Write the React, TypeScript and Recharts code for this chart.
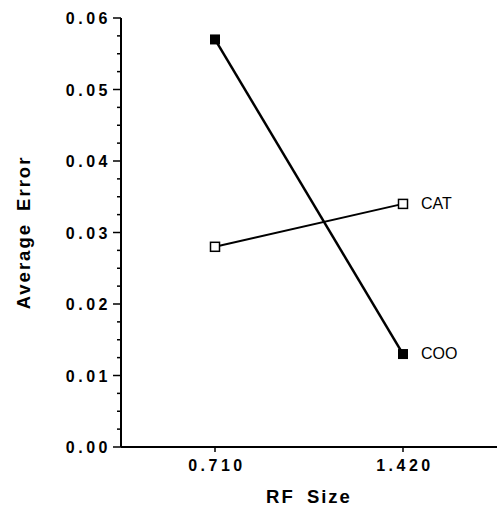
import { LineChart, Line, XAxis, YAxis, Label } from "recharts";

const rfSizes = [0.71, 1.42];
const cooErrors = [0.057, 0.013];
const catErrors = [0.028, 0.034];
const xTicks = [0.71, 1.42];
// major ticks every 0.01, minor every 0.0025
const yTicks = Array.from({ length: 25 }, (_, i) => i * 0.0025);

const data = rfSizes.map((rf, i) => ({ rf, COO: cooErrors[i], CAT: catErrors[i] }));

const tickFont = {
  fontFamily: "Liberation Sans, Arial, sans-serif",
  fontWeight: 700,
  fontSize: 16,
  letterSpacing: 3.5,
  fill: "#000",
};

const titleFont = {
  fontFamily: "Liberation Sans, Arial, sans-serif",
  fontWeight: 700,
  fontSize: 18.5,
  letterSpacing: 2,
  wordSpacing: 5,
  fill: "#000",
};

function YTick(props: any) {
  const { x, y, payload } = props;
  const v = payload.value;
  const major = Math.abs(v * 100 - Math.round(v * 100)) < 1e-6;
  return (
    <g>
      <line x1={x - (major ? 8 : 4)} x2={x} y1={y} y2={y} stroke="#000" strokeWidth={1.5} />
      {major && (
        <text x={x - 10} y={y} dy={6} textAnchor="end" style={tickFont}>
          {v.toFixed(2)}
        </text>
      )}
    </g>
  );
}

function XTick(props: any) {
  const { x, y, payload } = props;
  return (
    <g>
      <line x1={x} x2={x} y1={y} y2={y + 5} stroke="#000" strokeWidth={1.5} />
      <text x={x + 2} y={y + 24} textAnchor="middle" style={tickFont}>
        {payload.value.toFixed(3)}
      </text>
    </g>
  );
}

function Square(props: any) {
  const { cx, cy, filled } = props;
  if (cx == null || cy == null) return null;
  return filled ? (
    <rect x={cx - 5} y={cy - 5} width={10} height={10} fill="#000" />
  ) : (
    <rect x={cx - 4.5} y={cy - 4.5} width={9} height={9} fill="#fff" stroke="#000" strokeWidth={1.5} />
  );
}

function endLabel(name: string) {
  return (props: any) => {
    const { x, y, index } = props;
    if (index !== rfSizes.length - 1) return null;
    return (
      <text
        x={x + 18}
        y={y + 5}
        style={{ fontFamily: "Liberation Sans, Arial, sans-serif", fontSize: 16, fill: "#000" }}
      >
        {name}
      </text>
    );
  };
}

export default function App() {
  return (
    <div style={{ position: "absolute", left: 0, top: 0, background: "#fff" }}>
      <LineChart width={501} height={507} data={data} margin={{ top: 18, right: 4, left: 0, bottom: 0 }}>
        <XAxis
          dataKey="rf"
          type="number"
          domain={[0.355, 1.775]}
          ticks={xTicks}
          allowDataOverflow
          height={60}
          tickSize={0}
          tickMargin={0}
          tick={<XTick />}
          axisLine={{ stroke: "#000", strokeWidth: 2 }}
        >
          <Label value="RF Size" position="insideBottom" offset={4} style={titleFont} />
        </XAxis>
        <YAxis
          type="number"
          domain={[0, 0.06]}
          ticks={yTicks}
          interval={0}
          width={121}
          tickSize={0}
          tickMargin={0}
          tick={<YTick />}
          axisLine={{ stroke: "#000", strokeWidth: 2 }}
        >
          <Label
            value="Average Error"
            angle={-90}
            position="insideLeft"
            offset={23}
            style={{ ...titleFont, textAnchor: "middle" }}
          />
        </YAxis>
        <Line
          dataKey="COO"
          stroke="#000"
          strokeWidth={2.5}
          isAnimationActive={false}
          dot={<Square filled />}
          label={endLabel("COO")}
        />
        <Line
          dataKey="CAT"
          stroke="#000"
          strokeWidth={2}
          isAnimationActive={false}
          dot={<Square />}
          label={endLabel("CAT")}
        />
      </LineChart>
    </div>
  );
}
